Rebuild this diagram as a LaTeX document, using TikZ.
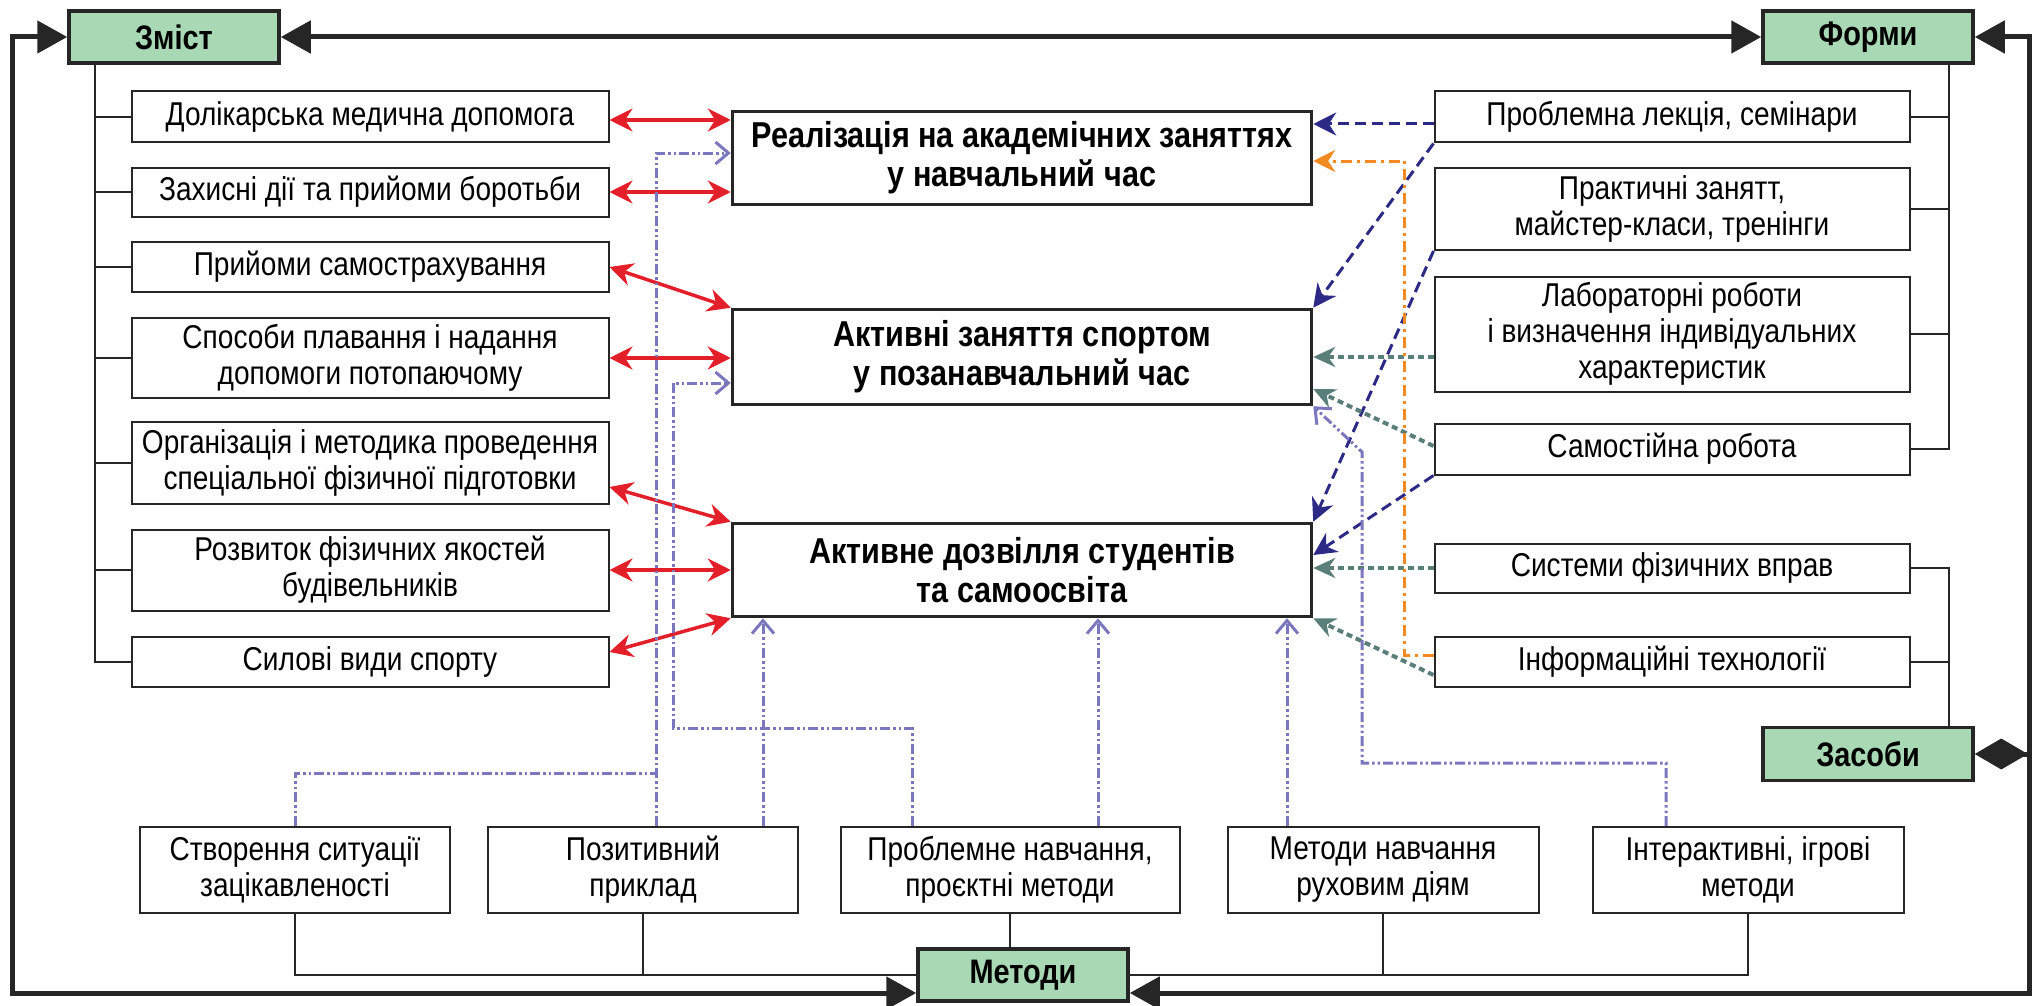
\documentclass[tikz,border=0pt]{standalone}
\usepackage{fontspec}
\setmainfont{Liberation Sans}[FakeStretch=0.85]
\usetikzlibrary{arrows.meta}

\definecolor{headgreen}{HTML}{A8D8B4}
\definecolor{arrred}{HTML}{E3202A}
\definecolor{arrnavy}{HTML}{2D2A86}
\definecolor{arrteal}{HTML}{5A7F7A}
\definecolor{arrorange}{HTML}{F18A22}
\definecolor{arrlav}{HTML}{7B77BE}

\tikzstyle{item}=[draw=black!85, line width=2pt, fill=white, align=center, inner sep=0pt,
  font=\fontsize{33}{36}\selectfont]
\tikzstyle{lbox}=[item, minimum width=477pt, minimum height=50pt]
\tikzstyle{rbox}=[item, minimum width=475pt, minimum height=50pt]
\tikzstyle{mbox}=[item, minimum width=311pt, minimum height=86pt]
\tikzstyle{goal}=[item, line width=3.5pt, minimum width=579pt, minimum height=93pt,
  font=\fontsize{36}{39}\selectfont\bfseries]
\tikzstyle{head}=[item, line width=3.5pt, fill=headgreen, minimum width=210pt, minimum height=52pt,
  font=\fontsize{34}{36}\selectfont\bfseries]
\tikzstyle{frame}=[line width=5pt, black!85, {Triangle[length=30pt,width=32pt]}-{Triangle[length=30pt,width=32pt]}]
\tikzstyle{tree}=[line width=2pt, black!85]
\tikzstyle{content}=[line width=3.5pt, arrred, {Stealth[length=23pt,width=23pt]}-{Stealth[length=23pt,width=23pt]}]
\tikzstyle{form}=[line width=3pt, arrnavy, dash pattern=on 11pt off 6pt, -{Stealth[length=23pt,width=23pt]}]
\tikzstyle{tool}=[line width=4pt, arrteal, dash pattern=on 6pt off 4pt, -{Stealth[length=22pt,width=20pt]}]
\tikzstyle{info}=[line width=3pt, arrorange, dash pattern=on 11pt off 5pt on 3pt off 5pt, -{Stealth[length=22pt,width=22pt]}]
\tikzstyle{methline}=[line width=3pt, arrlav, dash pattern=on 10pt off 3pt on 2.5pt off 3pt on 2.5pt off 3pt]
\tikzstyle{meth}=[methline, -{Straight Barb[length=13pt,width=22pt,line width=3pt]}]

\begin{document}
\begin{tikzpicture}[x=1pt, y=-1pt]
\useasboundingbox (0,0) rectangle (2042,1006);

% heads
\node (zmist) [head] at (174,37) {Зміст};
\node (formy) [head] at (1868,37) {Форми};
\node (zasoby) [head, minimum height=53pt] at (1868,754) {Засоби};
\node (metody) [head] at (1023,975) {Методи};

% goals
\node (goal1) [goal] at (1022,158) {Реалізація на академічних заняттях\\у навчальний час};
\node (goal2) [goal, minimum height=95pt] at (1022,357) {Активні заняття спортом\\у позанавчальний час};
\node (goal3) [goal] at (1022,570) {Активне дозвілля студентів\\та самоосвіта};

% content
\node (c1) [lbox, minimum height=51pt] at (370,117) {Долікарська медична допомога};
\node (c2) [lbox, minimum height=49pt] at (370,192) {Захисні дії та прийоми боротьби};
\node (c3) [lbox] at (370,267) {Прийоми самострахування};
\node (c4) [lbox, minimum height=80pt] at (370,358) {Способи плавання і надання\\допомоги потопаючому};
\node (c5) [lbox, minimum height=82pt] at (370,463) {Організація і методика проведення\\спеціальної фізичної підготовки};
\node (c6) [lbox, minimum height=81pt] at (370,570) {Розвиток фізичних якостей\\будівельників};
\node (c7) [lbox] at (370,662) {Силові види спорту};

% forms and tools
\node (f1) [rbox, minimum height=51pt] at (1672,117) {Проблемна лекція, семінари};
\node (f2) [rbox, minimum height=82pt] at (1672,209) {Практичні занятт,\\майстер-класи, тренінги};
\node (f3) [rbox, minimum height=115pt] at (1672,334) {Лабораторні роботи\\і визначення індивідуальних\\характеристик};
\node (f4) [rbox, minimum height=51pt] at (1672,449) {Самостійна робота};
\node (t1) [rbox, minimum height=49pt] at (1672,568) {Системи фізичних вправ};
\node (t2) [rbox] at (1672,662) {Інформаційні технології};

% methods
\node (m1) [mbox, minimum width=310pt] at (295,870) {Створення ситуації\\зацікавленості};
\node (m2) [mbox, minimum width=310pt] at (643,870) {Позитивний\\приклад};
\node (m3) [mbox, minimum width=339pt] at (1010,870) {Проблемне навчання,\\проєктні методи};
\node (m4) [mbox] at (1383,870) {Методи навчання\\руховим діям};
\node (m5) [mbox] at (1748,870) {Інтерактивні, ігрові\\методи};

% outer frame
\coordinate (cnw) at (12,37);
\coordinate (cne) at (2029,37);
\coordinate (csw) at (12,993);
\coordinate (cse) at (2029,993);
\draw[frame] (zmist.west) -- (cnw) -- (csw) -- (csw -| metody.west);
\draw[frame] (formy.east) -- (cne) -- (cse) -- (cse -| metody.east);
\draw[frame] (zmist.east) -- (formy.west);
\draw[line width=5pt, black!85, -{Diamond[length=53pt,width=31pt]}] (zasoby.east -| cne) -- (zasoby.east);

% trees
\coordinate (ztrunk) at (95,63);
\draw[tree] (ztrunk) |- (c7.west);
\foreach \n in {1,...,6} \draw[tree] (ztrunk |- c\n.west) -- (c\n.west);
\coordinate (ftrunk) at (1949,63);
\draw[tree] (ftrunk) |- (f4.east);
\foreach \n in {1,2,3} \draw[tree] (ftrunk |- f\n.east) -- (f\n.east);
\draw[tree] (t1.east) -| (zasoby.north -| ftrunk);
\draw[tree] (t2.east) -- (t2.east -| ftrunk);
\draw[tree] (m1.south) |- (metody.west);
\draw[tree] (m2.south) -- (m2.south |- metody.west);
\draw[tree] (m3.south) -- (m3.south |- metody.north);
\draw[tree] (m5.south) |- (metody.east);
\draw[tree] (m4.south) -- (m4.south |- metody.east);

% content arrows
\draw[content] ([yshift=-3pt]c1.east) -- ([yshift=-3pt]c1.east -| goal1.west);
\draw[content] (c2.east) -- (c2.east -| goal1.west);
\draw[content] (c3.east) -- (goal2.north west);
\draw[content] (c4.east) -- (c4.east -| goal2.west);
\draw[content] ([yshift=-24pt]c5.east) -- (goal3.north west);
\draw[content] (c6.east) -- (c6.east -| goal3.west);
\draw[content] ([yshift=10pt]c7.east) -- (goal3.south west);

% form arrows
\draw[form] ([yshift=-7pt]f1.west) -- ([yshift=-7pt]f1.west -| goal1.east);
\draw[form] (f1.south west) -- (goal2.north east);
\draw[form] (f2.south west) -- (goal3.north east);
\draw[form] (f4.south west) -- ([yshift=15pt]goal3.east);

% tool arrows
\draw[tool] ([yshift=-23pt]f3.west) -- ([yshift=-23pt]f3.west -| goal2.east);
\draw[tool] ([yshift=3pt]f4.west) -- ([yshift=-32pt]goal2.east);
\draw[tool] (t1.west) -- (t1.west -| goal3.east);
\draw[tool] ([yshift=-13pt]t2.west) -- (goal3.south east);
\draw[info] ([yshift=7pt]t2.west) -- ++(-29,0) |- ([yshift=-3pt]goal1.east);

% method arrows
\coordinate (j1) at (656,773);
\coordinate (j2) at (673,728);
\coordinate (j3) at (1362,763);
\coordinate (j4) at (1362,452);
\draw[methline] (m1.north) |- (j1);
\draw[meth] ([xshift=13pt]m2.north) |- ([yshift=5pt]goal1.west);
\draw[meth] ([xshift=120pt]m2.north) -- ([xshift=120pt]m2.north |- goal3.south);
\draw[meth] ([xshift=-98pt]m3.north) |- (j2) |- ([yshift=-26pt]goal2.west);
\draw[meth] ([xshift=88pt]m3.north) -- ([xshift=88pt]m3.north |- goal3.south);
\draw[meth] ([xshift=-96pt]m4.north) -- ([xshift=-96pt]m4.north |- goal3.south);
\draw[meth] ([xshift=-82pt]m5.north) |- (j3) -- (j4) -- (goal2.south east);

\end{tikzpicture}
\end{document}
